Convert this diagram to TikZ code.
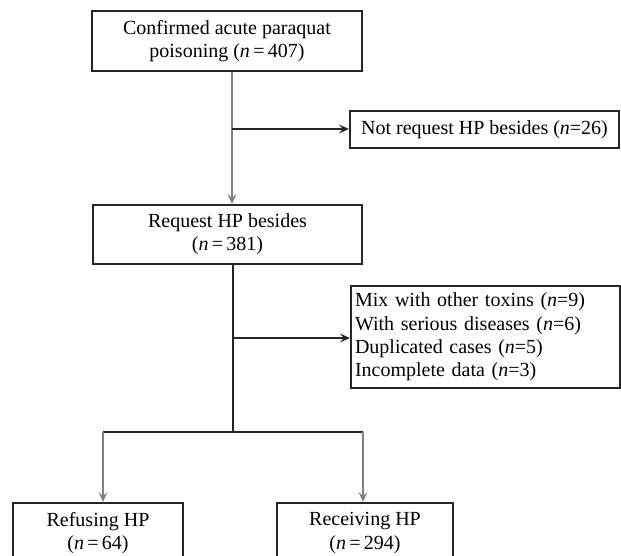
\documentclass[tikz,border=0pt]{standalone}
\usepackage{fontspec}
\setmainfont{Liberation Serif}
\usetikzlibrary{arrows.meta}
\begin{document}
\begin{tikzpicture}[x=1pt,y=1pt,
  box/.style={draw=black!85,line width=2.2pt,inner sep=2pt,align=center,font=\fontsize{20}{23.3}\selectfont},
  conn/.style={line width=2pt,black!85},
  gconn/.style={line width=2pt,black!50},
  arr/.style={-{Stealth[length=10pt,width=9pt,inset=4pt]}}]
\useasboundingbox (0,0) rectangle (621,-556);
\clip (0,0) rectangle (621,-556);
\fill[white] (0,0) rectangle (621,-556);
\node[box,minimum width=270pt,minimum height=60pt] (top) at (227,-41) {Confirmed acute paraquat\\poisoning (\textit{n}\,=\,407)};
\node[box,minimum width=269pt,minimum height=37pt] (notreq) at (484.5,-129.5) {Not request HP besides (\textit{n}=26)};
\node[box,minimum width=269pt,minimum height=102pt,align=left,text width=261pt] (excl) at (485.5,-337) {Mix with other toxins (\textit{n}=9)\\With serious diseases (\textit{n}=6)\\Duplicated cases (\textit{n}=5)\\Incomplete data (\textit{n}=3)};
\node[box,minimum width=269pt,minimum height=59pt] (req) at (227.5,-234.5) {Request HP besides\\(\textit{n}\,=\,381)};
\node[box,minimum width=170pt,minimum height=60pt,anchor=north] (refuse) at (98,-502) {Refusing HP\\(\textit{n}\,=\,64)};
\node[box,minimum width=176pt,minimum height=60pt,anchor=north] (receive) at (365,-502) {Receiving HP\\(\textit{n}\,=\,294)};
\coordinate (b1) at (232,-129);
\coordinate (b2) at (233,-338);
\coordinate (b3) at (233,-432);
\coordinate (l) at (103,-432);
\coordinate (r) at (363,-432);
\draw[gconn,arr] (top.south -| b1) -- (req.north -| b1);
\draw[conn,arr] (b1) -- (b1 -| notreq.west);
\draw[conn] (req.south -| b2) -- (b3);
\draw[conn,arr] (b2) -- (b2 -| excl.west);
\draw[conn] (l) -- (r);
\draw[gconn,arr] (l) -- (l |- refuse.north);
\draw[gconn,arr] (r) -- (r |- receive.north);
\end{tikzpicture}
\end{document}
